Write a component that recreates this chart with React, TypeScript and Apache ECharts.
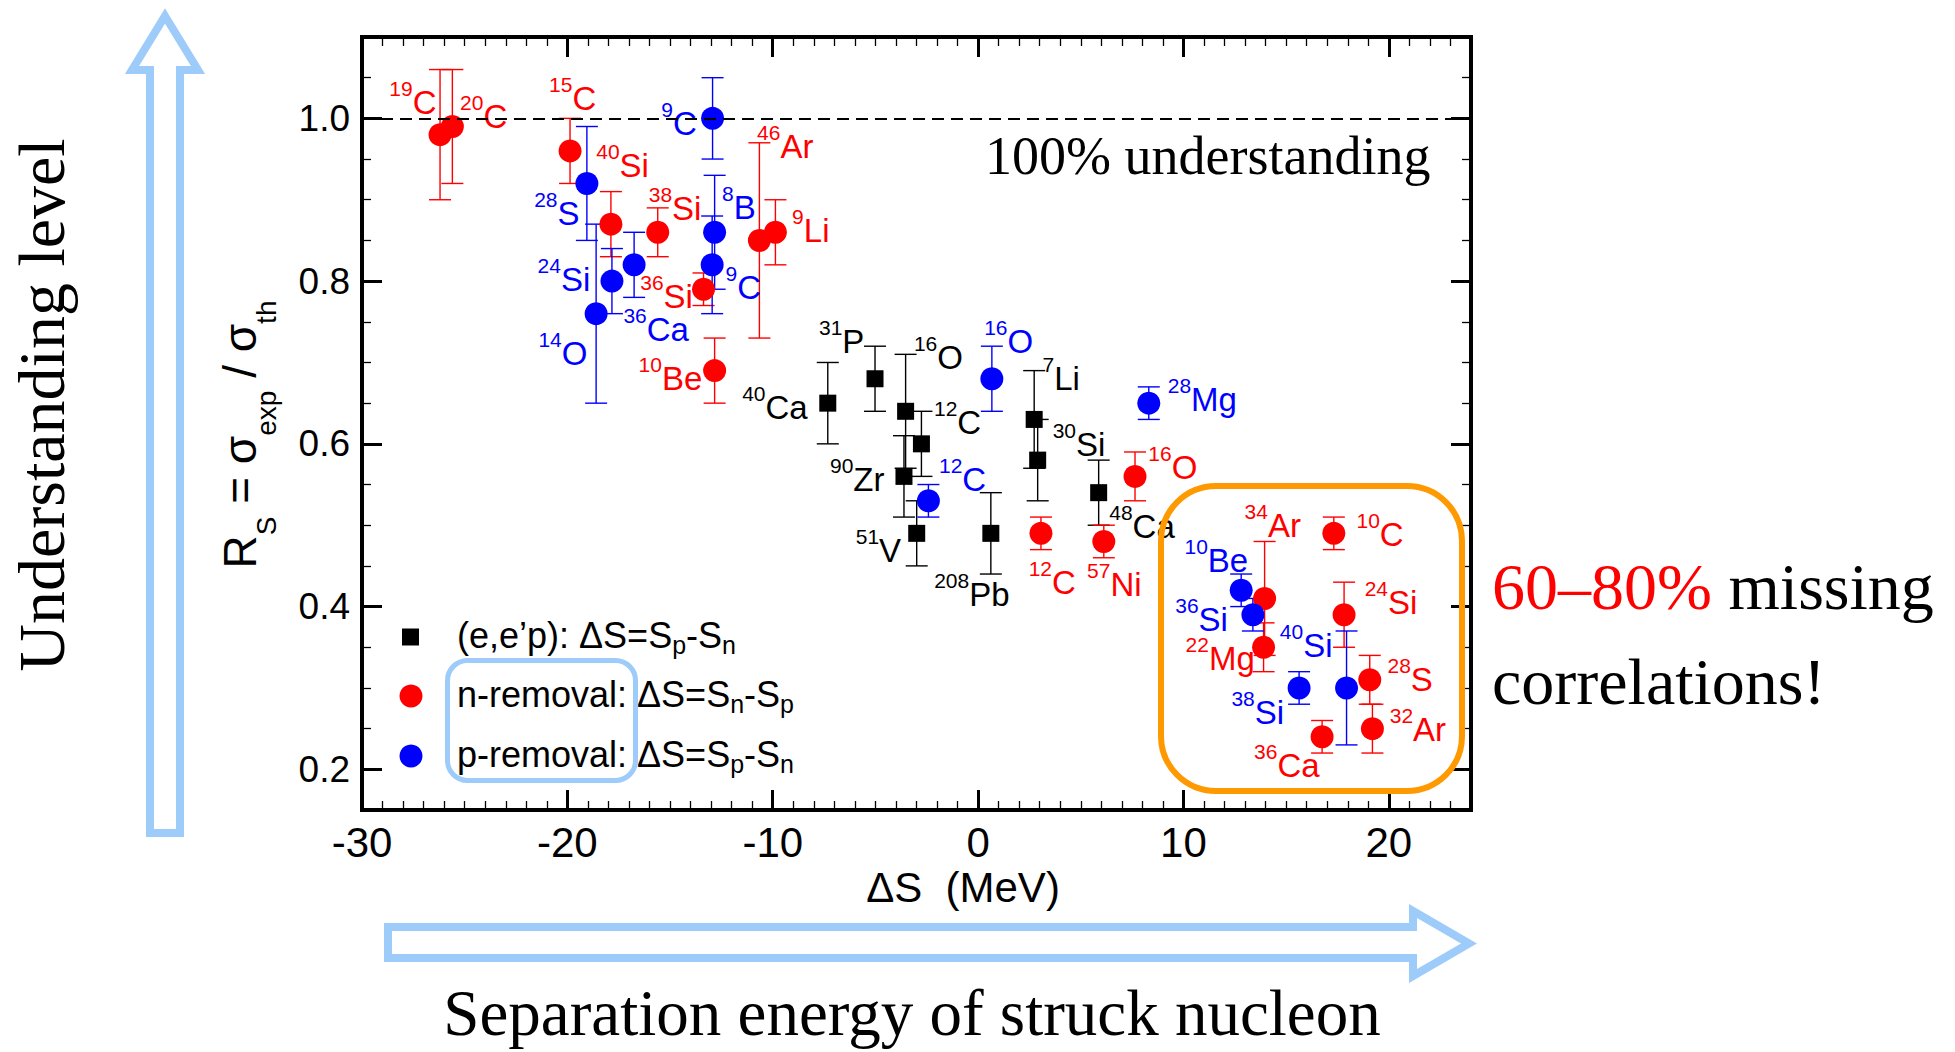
import React, { useEffect, useRef } from 'react';
import * as echarts from 'echarts';

// ---------------- data ----------------
// (e,e'p) points
const eepMass = ['40', '31', '16', '12', '90', '51', '208', '7', '30', '48'];
const eepElem = ['Ca', 'P', 'O', 'C', 'Zr', 'V', 'Pb', 'Li', 'Si', 'Ca'];
const eepX = [-7.32, -5.02, -3.53, -2.76, -3.61, -2.99, 0.62, 2.73, 2.9, 5.87];
const eepY = [0.65, 0.68, 0.64, 0.6, 0.56, 0.49, 0.49, 0.63, 0.58, 0.54];
const eepErr = [0.05, 0.04, 0.07, 0.04, 0.05, 0.04, 0.05, 0.06, 0.05, 0.04];

// n-removal points
const nMass = ['19', '20', '15', '40', '38', '36', '10', '46', '9', '12', '57', '16', '34', '10', '24', '22', '28', '32', '36'];
const nElem = ['C', 'C', 'C', 'Si', 'Si', 'Si', 'Be', 'Ar', 'Li', 'C', 'Ni', 'O', 'Ar', 'C', 'Si', 'Mg', 'S', 'Ar', 'Ca'];
const nX = [-26.2, -25.6, -19.87, -17.88, -15.6, -13.37, -12.83, -10.65, -9.87, 3.06, 6.12, 7.64, 13.95, 17.32, 17.82, 13.9, 19.07, 19.2, 16.75];
const nY = [0.98, 0.99, 0.96, 0.87, 0.86, 0.79, 0.69, 0.85, 0.86, 0.49, 0.48, 0.56, 0.41, 0.49, 0.39, 0.35, 0.31, 0.25, 0.24];
const nErr = [0.08, 0.07, 0.04, 0.04, 0.03, 0.02, 0.04, 0.12, 0.04, 0.02, 0.02, 0.03, 0.07, 0.02, 0.04, 0.03, 0.03, 0.03, 0.02];

// p-removal points
const pMass = ['9', '28', '14', '24', '36', '8', '9', '12', '16', '28', '10', '36', '40', '38'];
const pElem = ['C', 'S', 'O', 'Si', 'Ca', 'B', 'C', 'C', 'O', 'Mg', 'Be', 'Si', 'Si', 'Si'];
const pX = [-12.93, -19.05, -18.6, -17.83, -16.75, -12.83, -12.95, -2.42, 0.67, 8.31, 12.81, 13.38, 17.94, 15.63];
const pY = [1.0, 0.92, 0.76, 0.8, 0.82, 0.86, 0.82, 0.53, 0.68, 0.65, 0.42, 0.39, 0.3, 0.3];
const pErr = [0.05, 0.07, 0.11, 0.04, 0.04, 0.07, 0.06, 0.02, 0.04, 0.02, 0.02, 0.02, 0.07, 0.02];

// axis ticks
const xMajorTicks = [-30, -20, -10, 0, 10, 20];
const yMajorTicks = [0.2, 0.4, 0.6, 0.8, 1.0];

// ---------------- layout (label placement, px relative to the point) ----------------
const eepLabelOffsets = [[-85.6, 4.3], [-56, -37.6], [8.3, -53.7], [12.6, -21], [-74, 3], [-61, 16.7], [-56.7, 60.7], [8.4, -40.7], [15, -15.3], [10.6, 34]];
const nLabelOffsets = [[-50.7, -32.6], [7.7, -10], [-21, -52.7], [-14.7, -59], [-9, -24], [-63.3, 7.3], [-76, 8], [-2.3, -94.3], [16.7, -1.6], [-12.3, 49], [-16.7, 43.4], [13.3, -8.7], [-20, -72.7], [22.7, 1.4], [20.6, -12], [-78, 11.7], [17.7, 0], [17.3, 0.7], [-68, 29]];
const pLabelOffsets = [[-51.3, 5], [-52.7, 30], [-57.7, 40], [-74.4, -2], [-10.7, 65], [7.4, -25], [13.3, 22.3], [10.6, -21.7], [-7.7, -37], [19, -3.3], [-56.7, -30], [-77.7, 4.3], [-66.7, -42.7], [-67.7, 24.7]];

const SANS = "'Liberation Sans', Arial, Helvetica, sans-serif";
const SERIF = "'Liberation Serif', 'Times New Roman', serif";
const RED = '#ff0000';
const BLUE = '#0000ff';
const BLACK = '#000000';
const LIGHTBLUE = '#9dcbfa';
const ORANGE = '#ff9900';

function makeScatter(name: string, xs: number[], ys: number[], mass: string[], elem: string[], offs: number[][], color: string, symbol: string, size: number, extra: any = {}) {
  return {
    type: 'scatter',
    name,
    xAxisIndex: 0,
    yAxisIndex: 0,
    symbol,
    symbolSize: size,
    z: 4,
    itemStyle: { color, opacity: 1 },
    emphasis: { disabled: true },
    label: {
      show: true,
      position: 'inside',
      align: 'left',
      verticalAlign: 'middle',
      color,
      textBorderWidth: 0,
      fontFamily: SANS,
      rich: {
        sup: { fontSize: 21, lineHeight: 21, verticalAlign: 'top', color, fontFamily: SANS },
        el: { fontSize: 33, lineHeight: 41, verticalAlign: 'bottom', color, fontFamily: SANS },
      },
    },
    data: xs.map((x, i) => ({
      value: [x, ys[i]],
      label: {
        offset: [offs[i][0], offs[i][1] - 4],
        formatter: `{sup|${mass[i]}}{el|${elem[i]}}`,
      },
    })),
    ...extra,
  };
}

function makeErrorBars(xs: number[], ys: number[], errs: number[], color: string) {
  return {
    type: 'custom',
    xAxisIndex: 0,
    yAxisIndex: 0,
    z: 3,
    silent: true,
    data: xs.map((x, i) => [x, ys[i], ys[i] - errs[i], ys[i] + errs[i]]),
    encode: { x: 0, y: [1, 2, 3] },
    renderItem: (params: any, api: any) => {
      const x = api.value(0);
      const lo = api.coord([x, api.value(2)]);
      const hi = api.coord([x, api.value(3)]);
      const cap = 11;
      const st = { stroke: color, lineWidth: 1.4 };
      return {
        type: 'group',
        children: [
          { type: 'line', shape: { x1: lo[0], y1: lo[1], x2: hi[0], y2: hi[1] }, style: st },
          { type: 'line', shape: { x1: lo[0] - cap, y1: lo[1], x2: lo[0] + cap, y2: lo[1] }, style: st },
          { type: 'line', shape: { x1: hi[0] - cap, y1: hi[1], x2: hi[0] + cap, y2: hi[1] }, style: st },
        ],
      };
    },
  };
}

const frameLine = { show: true, onZero: false, lineStyle: { color: BLACK, width: 4, cap: 'square' } };
const majorTickStyle = { color: BLACK, width: 3 };
const minorTickStyle = { color: BLACK, width: 1.3 };

const legendRich = {
  m: { fontSize: 36, lineHeight: 40, verticalAlign: 'top', fontFamily: SANS, color: BLACK },
  sub: { fontSize: 25, verticalAlign: 'bottom', fontFamily: SANS, color: BLACK },
};

const legendNames: Record<string, string> = {
  eep: '{m|(e,e\u2019p): \u0394S=S}{sub|p}{m|-S}{sub|n}',
  n: '{m|n-removal: \u0394S=S}{sub|n}{m|-S}{sub|p}',
  p: '{m|p-removal: \u0394S=S}{sub|p}{m|-S}{sub|n}',
};

const GRID = { left: 362, top: 37, width: 1109, height: 773, outerBoundsMode: 'none' };

const option: any = {
  animation: false,
  backgroundColor: '#ffffff',
  grid: [GRID, { ...GRID }],
  xAxis: [
    {
      gridIndex: 0, type: 'value', position: 'bottom', min: -30, max: 24,
      axisLine: frameLine,
      axisTick: { show: true, inside: true, length: 20, lineStyle: majorTickStyle, customValues: xMajorTicks },
      axisLabel: { show: true, customValues: xMajorTicks, fontSize: 42, fontFamily: SANS, color: BLACK, margin: 11 },
      splitLine: { show: false },
      name: '\u0394S  (MeV)', nameLocation: 'middle', nameGap: 54, nameMoveOverlap: false,
      nameTextStyle: { fontSize: 42, lineHeight: 46, fontFamily: SANS, color: BLACK, padding: [0, 0, 0, 93] },
    },
    {
      gridIndex: 0, type: 'value', position: 'top', min: -30, max: 24,
      axisLine: frameLine,
      axisTick: { show: true, inside: true, length: 20, lineStyle: majorTickStyle, customValues: xMajorTicks },
      axisLabel: { show: false },
      splitLine: { show: false },
    },
    {
      gridIndex: 1, type: 'value', position: 'bottom', min: -30, max: 24, interval: 1,
      axisLine: { show: false, onZero: false },
      axisTick: { show: true, inside: true, length: 9, lineStyle: minorTickStyle },
      axisLabel: { show: false },
      splitLine: { show: false },
    },
    {
      gridIndex: 1, type: 'value', position: 'top', min: -30, max: 24, interval: 1,
      axisLine: { show: false, onZero: false },
      axisTick: { show: true, inside: true, length: 9, lineStyle: minorTickStyle },
      axisLabel: { show: false },
      splitLine: { show: false },
    },
  ],
  yAxis: [
    {
      gridIndex: 0, type: 'value', position: 'left', min: 0.15, max: 1.1,
      axisLine: frameLine,
      axisTick: { show: true, inside: true, length: 20, lineStyle: majorTickStyle, customValues: yMajorTicks },
      axisLabel: { show: true, customValues: yMajorTicks, fontSize: 37, fontFamily: SANS, color: BLACK, margin: 12, formatter: (v: number) => v.toFixed(1) },
      splitLine: { show: false },
      name: '{r|R}{s|S}{r| = \u03c3}{s|exp}{r| / \u03c3}{s|th}',
      nameLocation: 'middle', nameGap: 82, nameRotate: 90, nameMoveOverlap: false,
      nameTextStyle: {
        fontFamily: SANS, color: BLACK, padding: [0, 22, 0, 0],
        rich: {
          r: { fontSize: 46, lineHeight: 63, verticalAlign: 'top', fontFamily: SANS, color: BLACK },
          s: { fontSize: 28, verticalAlign: 'bottom', fontFamily: SANS, color: BLACK },
        },
      },
    },
    {
      gridIndex: 0, type: 'value', position: 'right', min: 0.15, max: 1.1,
      axisLine: frameLine,
      axisTick: { show: true, inside: true, length: 20, lineStyle: majorTickStyle, customValues: yMajorTicks },
      axisLabel: { show: false },
      splitLine: { show: false },
    },
    {
      gridIndex: 1, type: 'value', position: 'left', min: 0.15, max: 1.1, interval: 0.05,
      axisLine: { show: false, onZero: false },
      axisTick: { show: true, inside: true, length: 9, lineStyle: minorTickStyle },
      axisLabel: { show: false },
      splitLine: { show: false },
    },
    {
      gridIndex: 1, type: 'value', position: 'right', min: 0.15, max: 1.1, interval: 0.05,
      axisLine: { show: false, onZero: false },
      axisTick: { show: true, inside: true, length: 9, lineStyle: minorTickStyle },
      axisLabel: { show: false },
      splitLine: { show: false },
    },
  ],
  legend: [
    {
      data: ['eep'], orient: 'vertical', left: 402, top: 617, padding: 0,
      icon: 'rect', itemWidth: 17, itemHeight: 17, selectedMode: false,
      formatter: (name: string) => legendNames[name],
      textStyle: { padding: [0, 0, 0, 33], rich: legendRich },
    },
    {
      data: ['n', 'p'], orient: 'vertical', left: 399.5, top: 676, padding: 0, itemGap: 20,
      icon: 'circle', itemWidth: 23, itemHeight: 23, selectedMode: false,
      formatter: (name: string) => legendNames[name],
      textStyle: { padding: [0, 0, 0, 29.5], rich: legendRich },
    },
  ],
  series: [
    makeErrorBars(eepX, eepY, eepErr, BLACK),
    makeErrorBars(nX, nY, nErr, RED),
    makeErrorBars(pX, pY, pErr, BLUE),
    makeScatter('eep', eepX, eepY, eepMass, eepElem, eepLabelOffsets, BLACK, 'rect', 17, {
      markLine: {
        silent: true,
        symbol: ['none', 'none'],
        label: { show: false },
        lineStyle: { type: [12, 7], width: 2, color: BLACK },
        emphasis: { disabled: true },
        data: [{ yAxis: 1.0 }],
      },
    }),
    makeScatter('n', nX, nY, nMass, nElem, nLabelOffsets, RED, 'circle', 23),
    makeScatter('p', pX, pY, pMass, pElem, pLabelOffsets, BLUE, 'circle', 23),
  ],
  graphic: [
    {
      type: 'polygon', z: 1,
      shape: { points: [[165, 16], [198, 70], [180, 70], [180, 833], [150, 833], [150, 70], [132, 70]] },
      style: { fill: '#ffffff', stroke: LIGHTBLUE, lineWidth: 8, lineJoin: 'miter' },
    },
    {
      type: 'polygon', z: 1,
      shape: { points: [[388, 927], [1413, 927], [1413, 911], [1469, 943.5], [1413, 976], [1413, 958], [388, 958]] },
      style: { fill: '#ffffff', stroke: LIGHTBLUE, lineWidth: 8, lineJoin: 'miter' },
    },
    {
      type: 'rect', z: 10,
      shape: { x: 447.5, y: 660.5, width: 188, height: 120, r: 20 },
      style: { fill: 'none', stroke: LIGHTBLUE, lineWidth: 5 },
    },
    {
      type: 'rect', z: 10,
      shape: { x: 1161, y: 486, width: 301, height: 305, r: 55 },
      style: { fill: 'none', stroke: ORANGE, lineWidth: 6 },
    },
    {
      type: 'text', z: 10, x: 41, y: 405, rotation: Math.PI / 2,
      style: { text: 'Understanding level', fontSize: 66, fontFamily: SERIF, fill: BLACK, align: 'center', verticalAlign: 'middle', textAlign: 'center', textVerticalAlign: 'middle' },
    },
    {
      type: 'text', z: 10, x: 912, y: 1013,
      style: { text: 'Separation energy of struck nucleon', fontSize: 65, fontFamily: SERIF, fill: BLACK, align: 'center', verticalAlign: 'middle', textAlign: 'center', textVerticalAlign: 'middle' },
    },
    {
      type: 'text', z: 10, x: 985, y: 156,
      style: { text: '100% understanding', fontSize: 54, fontFamily: SERIF, fill: BLACK, align: 'left', verticalAlign: 'middle', textAlign: 'left', textVerticalAlign: 'middle' },
    },
    {
      type: 'text', z: 10, x: 1492, y: 586,
      style: {
        text: '{r|60\u201380%}{k| missing}', fontSize: 66, fontFamily: SERIF, fill: BLACK,
        align: 'left', verticalAlign: 'middle', textAlign: 'left', textVerticalAlign: 'middle',
        rich: {
          r: { fill: RED, fontSize: 66, fontFamily: SERIF },
          k: { fill: BLACK, fontSize: 66, fontFamily: SERIF },
        },
      },
    },
    {
      type: 'text', z: 10, x: 1492, y: 681,
      style: { text: 'correlations!', fontSize: 66, fontFamily: SERIF, fill: BLACK, align: 'left', verticalAlign: 'middle', textAlign: 'left', textVerticalAlign: 'middle' },
    },
  ],
};

export default function App() {
  const ref = useRef<HTMLDivElement>(null);
  useEffect(() => {
    if (!ref.current) return;
    const chart = echarts.init(ref.current, null, { renderer: 'svg' });
    chart.setOption(option);
    return () => {
      chart.dispose();
    };
  }, []);
  return (
    <div
      ref={ref}
      style={{ position: 'absolute', left: 0, top: 0, width: 1955, height: 1052, background: '#ffffff' }}
    />
  );
}
